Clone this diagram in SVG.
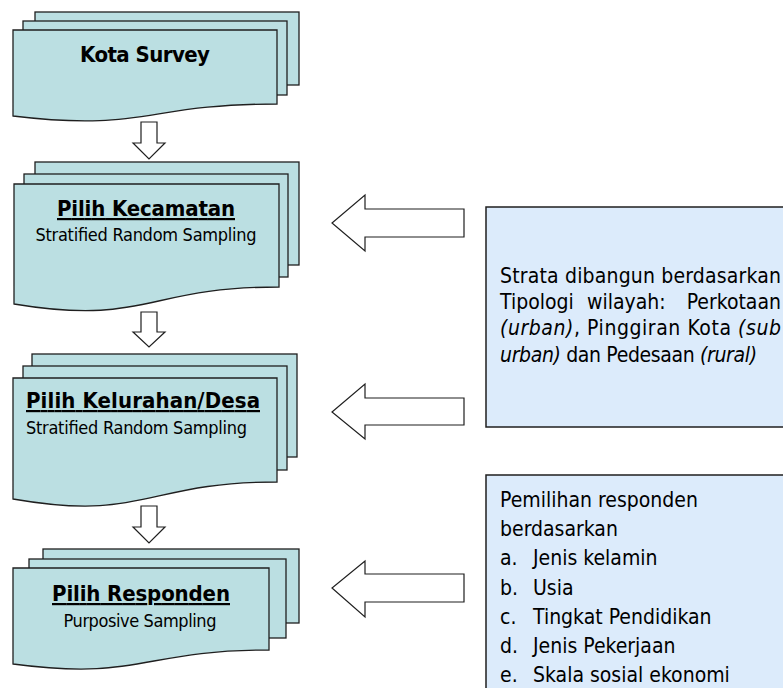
<svg xmlns="http://www.w3.org/2000/svg" width="783" height="688" viewBox="0 0 783 688">
<style>
.pg{fill:#bbdfe2;stroke:#1f1f1f;stroke-width:1.3}
.bx{fill:#dcebfb;stroke:#1f1f1f;stroke-width:1.5}
.ar{fill:#ffffff;stroke:#1f1f1f;stroke-width:1.2;stroke-linejoin:miter}
.t{font-family:"DejaVu Sans Condensed","DejaVu Sans",sans-serif;font-stretch:condensed;fill:#000}
.h{font-weight:bold;font-size:22px;text-decoration:underline}
.k{font-weight:bold;font-size:22px}
.s{font-size:18px}
.b{font-size:21px}
.i{font-style:italic}
</style>
<rect width="783" height="688" fill="#ffffff"/>
<g id="kota-survey">
<rect class="pg" x="35" y="12" width="264" height="73"/>
<rect class="pg" x="23" y="21" width="264" height="74"/>
<path class="pg" d="M13,30 H277 V104 C145,104 145,132 13,116 Z"/>
<text class="t k" x="145" y="62" text-anchor="middle" textLength="130">Kota Survey</text>
</g>
<g id="pilih-kecamatan">
<rect class="pg" x="35" y="162" width="264" height="103"/>
<rect class="pg" x="24" y="174" width="264" height="103"/>
<path class="pg" d="M14,184 H279 V287 C146,287 146,326 14,304 Z"/>
<text class="t h" x="146" y="216" text-anchor="middle" textLength="178">Pilih Kecamatan</text>
<text class="t s" x="146" y="241" text-anchor="middle" textLength="221">Stratified Random  Sampling</text>
</g>
<g id="pilih-kelurahan">
<rect class="pg" x="32" y="354" width="265" height="103"/>
<rect class="pg" x="23" y="366" width="264" height="104"/>
<path class="pg" d="M13,378 H277 V482 C145,482 145,522 13,499 Z"/>
<text class="t h" x="26" y="408" textLength="234">Pilih Kelurahan/Desa</text>
<text class="t s" x="26" y="434" textLength="221">Stratified Random  Sampling</text>
</g>
<g id="pilih-responden">
<rect class="pg" x="43" y="549" width="256" height="74"/>
<rect class="pg" x="29" y="559" width="257" height="79"/>
<path class="pg" d="M13,568 H269 V650 C141,650 141,681 13,664 Z"/>
<text class="t h" x="141" y="601" text-anchor="middle" textLength="178">Pilih Responden</text>
<text class="t s" x="140" y="627" text-anchor="middle" textLength="153">Purposive Sampling</text>
</g>
<g id="strata-note">
<rect class="bx" x="486" y="207" width="310" height="220"/>
<text class="t b" x="500" y="283" textLength="281">Strata dibangun berdasarkan</text>
<text class="t b" y="309"><tspan x="500">Tipologi</tspan><tspan x="587">wilayah:</tspan><tspan x="781" text-anchor="end">Perkotaan</tspan></text>
<text class="t b" x="500" y="335" textLength="281"><tspan class="i">(urban)</tspan>, Pinggiran Kota <tspan class="i">(sub</tspan></text>
<text class="t b" x="500" y="362" textLength="257"><tspan class="i">urban)</tspan> dan Pedesaan <tspan class="i">(rural)</tspan></text>
</g>
<g id="responden-note">
<rect class="bx" x="486" y="475" width="310" height="230"/>
<text class="t b" x="500" y="507">Pemilihan responden</text>
<text class="t b" x="500" y="536">berdasarkan</text>
<text class="t b" y="565"><tspan x="500">a.</tspan><tspan x="533">Jenis kelamin</tspan></text>
<text class="t b" y="595"><tspan x="500">b.</tspan><tspan x="533">Usia</tspan></text>
<text class="t b" y="624"><tspan x="500">c.</tspan><tspan x="533">Tingkat Pendidikan</tspan></text>
<text class="t b" y="653"><tspan x="500">d.</tspan><tspan x="533">Jenis Pekerjaan</tspan></text>
<text class="t b" y="682"><tspan x="500">e.</tspan><tspan x="533">Skala sosial ekonomi</tspan></text>
</g>
<g id="connectors">
<path class="ar" d="M141,122 H157 V143 H165 L149,159 L133,143 H141 Z"/>
<path class="ar" d="M141,312 H157 V332 H165 L149,347 L133,332 H141 Z"/>
<path class="ar" d="M141,506 H157 V527 H165 L149,543 L133,527 H141 Z"/>
<path class="ar" d="M464,209 V237 H365 V251 L332,223 L365,195 V209 Z"/>
<path class="ar" d="M464,398 V425 H365 V439 L332,412 L365,384 V398 Z"/>
<path class="ar" d="M464,574 V602 H365 V617 L332,588 L365,561 V574 Z"/>
</g>
</svg>
